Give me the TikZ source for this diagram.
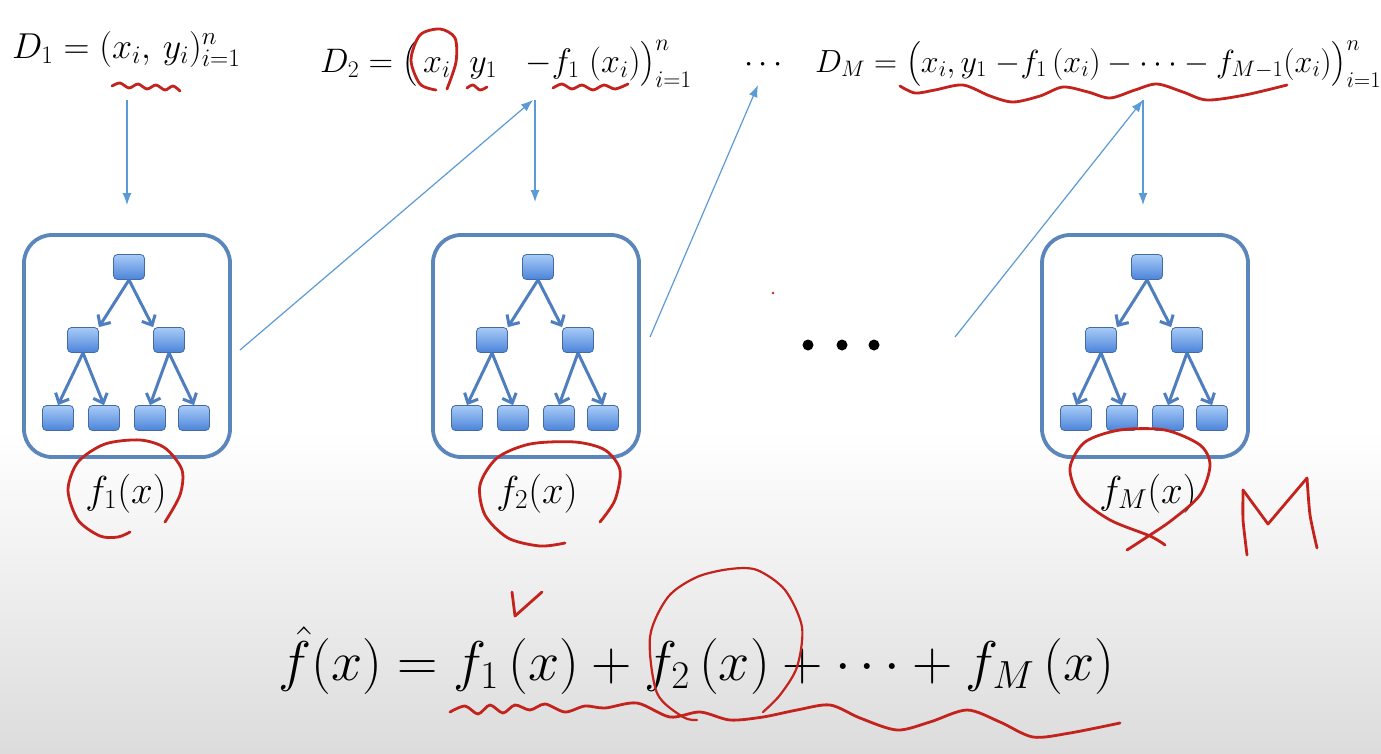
\RequirePackage{fix-cm}
\documentclass[tikz,border=0pt]{standalone}
\usepackage{amsmath}
\usetikzlibrary{arrows.meta}
\definecolor{treeblue}{HTML}{4F7EBF}
\definecolor{boxblue}{HTML}{5B86BC}
\definecolor{thinblue}{HTML}{5B9BD5}
\definecolor{ink}{HTML}{C4231D}
\definecolor{nodetop}{HTML}{A8CBF7}
\definecolor{nodebot}{HTML}{4C84DA}
\definecolor{bggray}{HTML}{DCDCDC}
\tikzset{
 tbox/.style={draw=boxblue, line width=3.8pt, rounded corners=28pt, minimum width=206pt, minimum height=222pt, fill=white},
 leaf/.style={draw=treeblue!85!black, line width=0.8pt, rounded corners=4pt, minimum width=31pt, minimum height=25pt, top color=nodetop, bottom color=nodebot, inner sep=0pt},
 tarrow/.style={draw=treeblue, line width=3pt, -{Straight Barb[length=8pt,width=15pt,line width=3pt]}},
 flow/.style={draw=thinblue, line width=1.2pt, -{Latex[length=12pt,width=9pt]}},
 pen/.style={draw=ink, line width=2.8pt, line cap=round, line join=round},
 formula/.style={inner sep=0pt, anchor=base west},
 lab/.style={font=\fontsize{39}{46}\selectfont, inner sep=0pt, anchor=base},
 bigf/.style={font=\fontsize{56}{64}\selectfont, inner sep=0pt, anchor=base west},
 dot/.style={circle, fill=black, minimum size=11pt, inner sep=0pt},
}
\newcommand\drawtree[2]{%
 \begin{scope}[shift={(#2,0)}]
  \node[tbox] (#1box) at (127,346) {};
  \node[leaf] (#1r) at (129,267) {};
  \node[leaf] (#1a) at (83,340) {};
  \node[leaf] (#1b) at (169,340) {};
  \node[leaf] (#1c) at (58,418) {};
  \node[leaf] (#1d) at (104,418) {};
  \node[leaf] (#1e) at (150,418) {};
  \node[leaf] (#1f) at (194,418) {};
  \draw[tarrow] (#1r.south) -- (#1a.north east);
  \draw[tarrow] (#1r.south) -- (#1b.north west);
  \draw[tarrow] (#1a.south) -- (#1c.north);
  \draw[tarrow] (#1a.south) -- (#1d.north);
  \draw[tarrow] (#1b.south) -- (#1e.north);
  \draw[tarrow] (#1b.south) -- (#1f.north);
 \end{scope}}
\begin{document}
\begin{tikzpicture}[x=1pt,y=-1pt]
\useasboundingbox (0,0) rectangle (1381,753);
\fill[white] (0,0) rectangle (1381,753);
\fill[top color=white, bottom color=bggray] (0,430) rectangle (1381,753);

% trees
\drawtree{t1}{0}
\drawtree{t2}{409}
\drawtree{t3}{1018}

% labels
\node[lab] (l1) at (126,503) {$f_1(x)$};
\node[lab] (l2) at (537,503) {$f_2(x)$};
\node[lab] (l3) at (1148,503) {$f_M(x)$};

% top formulas
\node[formula, font=\fontsize{36}{42}\selectfont] (D1) at (12,58) {$D_1 = (x_i,\, y_i)_{i=1}^n$};
\node[formula, font=\fontsize{34}{40}\selectfont] (D2) at (320,72) {$D_2 = \big(\,x_i\;\; y_1 \;\;\;{-}f_1\;(x_i)\big)_{i=1}^n$};
\node[formula, font=\fontsize{33}{40}\selectfont] (dd) at (744,72) {$\cdots$};
\node[formula, font=\fontsize{32}{40}\selectfont] (DM) at (815,72) {$D_M = \big(x_i, y_1 \;{-}f_1\,(x_i) - \cdots - f_{M-1}(x_i)\big)_{i=1}^n$};

% dots
\node[dot] (p1) at (808,345) {};
\node[dot] (p2) at (842,345) {};
\node[dot] (p3) at (874,345) {};
\fill[ink] (773,293) circle (1.3);

% flow arrows
\coordinate (a1s) at (127,100); \coordinate (a1e) at (127,205);
\coordinate (a2s) at (240,350); \coordinate (a2e) at (533,100);
\coordinate (a3s) at (535,100); \coordinate (a3e) at (535,202);
\coordinate (a4s) at (650,337); \coordinate (a4e) at (758,85);
\coordinate (a5s) at (955,337); \coordinate (a5e) at (1143,100);
\coordinate (a6s) at (1143,100); \coordinate (a6e) at (1143,205);
\draw[flow] (a1s) -- (a1e);
\draw[flow] (a2s) -- (a2e);
\draw[flow] (a3s) -- (a3e);
\draw[flow] (a4s) -- (a4e);
\draw[flow] (a5s) -- (a5e);
\draw[flow] (a6s) -- (a6e);

% bottom formula
\node[bigf] (F) at (278,680) {$\hat f(x) = f_1\,(x) + f_2\,(x) + \cdots + f_M\,(x)$};

% red annotations
\draw[pen] plot[smooth] coordinates {(112,86) (120,83) (129,88) (138,84) (147,89) (156,85) (165,90) (173,86) (180,91)};
\draw[pen] plot[smooth] coordinates {(447,89) (456,62) (455,38) (440,29) (420,35) (411,60) (420,84) (436,90)};
\draw[pen] plot[smooth] coordinates {(467,88) (473,85) (480,90) (487,87)};
\draw[pen] plot[smooth] coordinates {(553,88) (562,84) (572,89) (582,85) (593,90) (604,85) (615,89) (628,84)};
\draw[pen] plot[smooth] coordinates {(900,86) (915,93) (935,90) (963,85) (990,96) (1013,102) (1040,96) (1063,87) (1088,92) (1110,98) (1135,90) (1157,84) (1183,92) (1207,100) (1245,95) (1287,85)};
% f1 loop
\draw[pen] plot[smooth] coordinates {(165,522) (180,495) (182,470) (165,448) (140,440) (105,444) (78,462) (68,490) (78,520) (100,536) (118,537) (130,532)};
% f2 loop
\draw[pen] plot[smooth] coordinates {(600,522) (615,500) (620,470) (605,450) (575,442) (530,444) (497,458) (480,485) (485,515) (508,538) (540,546) (565,543)};
% fM loop
\draw[pen] plot[smooth] coordinates {(1165,545) (1150,536) (1110,520) (1080,497) (1070,468) (1085,442) (1120,430) (1165,430) (1200,445) (1210,465) (1200,495) (1172,520) (1147,537) (1127,550)};
% M
\draw[pen] plot[smooth, tension=0.3] coordinates {(1247,555) (1243,520) (1243,490)};
\draw[pen] (1243,490) -- (1268,524) -- (1307,478);
\draw[pen] plot[smooth, tension=0.4] coordinates {(1307,478) (1310,515) (1317,548)};
% check mark
\draw[pen] (512,592) -- (515,616) -- (542,592);
% f2 circle bottom
\draw[pen, line width=2.2pt] plot[smooth] coordinates {(697,720) (683,717) (657,693) (650,637) (668,597) (697,577) (730,569) (757,570) (785,590) (802,627) (797,667) (780,695) (763,712)};
% squiggle bottom
\draw[pen] plot[smooth] coordinates {(450,712) (465,706) (478,714) (490,705) (503,713) (515,705) (530,710) (545,704) (565,712) (585,706) (605,708) (637,703) (670,717) (700,712) (730,720) (763,717) (797,710) (830,705) (860,718) (897,730) (930,722) (967,710) (1000,722) (1033,737) (1070,733) (1120,723)};
\end{tikzpicture}
\end{document}
